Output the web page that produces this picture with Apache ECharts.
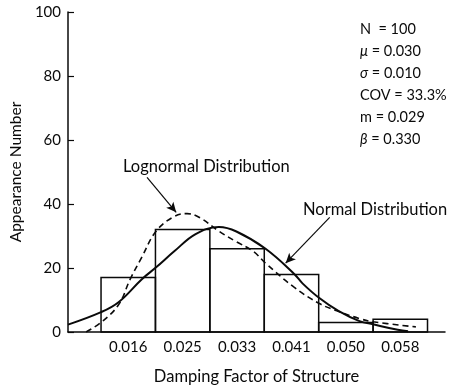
<!DOCTYPE html>
<html>
<head>
<meta charset="utf-8">
<script src="https://cdn.jsdelivr.net/npm/echarts@6/dist/echarts.min.js"></script>
<style>
  html, body { margin: 0; padding: 0; background: #fff; }
  #chart { width: 459px; height: 390px; }
</style>
</head>
<body>
<div id="chart"></div>
<script>
  // histogram bins (damping factor) and counts
  const binEdges = [0.0118, 0.0202, 0.0286, 0.0370, 0.0454, 0.0538, 0.0622];
  const binCenters = [0.016, 0.0244, 0.0328, 0.0412, 0.0496, 0.058];
  const binLabels = ['0.016', '0.025', '0.033', '0.041', '0.050', '0.058'];
  const counts = [17, 32, 26, 18, 3, 4];

  // fitted curves
  const normalCurve = [
    [0.0067, 2.3], [0.0118, 6.2], [0.0145, 9.3], [0.0181, 16.5], [0.0203, 20.2],
    [0.0231, 25.2], [0.0264, 30.6], [0.0300, 32.8], [0.0327, 31.4], [0.0372, 26],
    [0.0417, 18], [0.0429, 15.2], [0.0455, 10.6], [0.0485, 6.5], [0.0517, 3.4],
    [0.0538, 2.4], [0.0576, 0.7], [0.0592, 0.2]
  ];
  const lognormalCurve = [
    [0.0095, 0], [0.0118, 3], [0.0145, 8.5], [0.0163, 16.5], [0.0181, 23.4],
    [0.0203, 31.5], [0.0231, 36.1], [0.0251, 37], [0.0270, 35.8], [0.0300, 31.5],
    [0.0326, 28.3], [0.0353, 25.2], [0.0372, 21.5], [0.0416, 14], [0.0455, 8.9],
    [0.0485, 6.4], [0.0517, 4.2], [0.0538, 3.2], [0.0604, 1.6]
  ];

  // annotation arrows: [from, to] in data coordinates
  const lognormalArrow = [[0.0189, 48.3], [0.0234, 37.4]];
  const normalArrow = [[0.0471, 35.8], [0.0403, 21.5]];

  const statLines = [
    'N  = 100',
    '{i|μ} = 0.030',
    '{i|σ} = 0.010',
    'COV = 33.3%',
    'm = 0.029',
    '{i|β} = 0.330'
  ];

  const font = 'Lato, "DejaVu Sans", sans-serif';
  const ink = '#0a0a0a';
  const chart = echarts.init(document.getElementById('chart'), null, { renderer: 'canvas' });

  const bars = counts.map((c, i) => [binEdges[i], binEdges[i + 1], c]);

  chart.setOption({
    animation: false,
    backgroundColor: '#fff',
    textStyle: { fontFamily: font },
    grid: { left: 62, right: 14, top: 12, bottom: 57 },
    xAxis: {
      type: 'value',
      min: 0.0067,
      max: 0.0649,
      name: 'Damping Factor of Structure',
      nameLocation: 'middle',
      nameGap: 36,
      nameTextStyle: { color: ink, fontSize: 16.5, fontFamily: font },
      axisLine: { show: true, onZero: false, lineStyle: { color: ink, width: 1.5 } },
      axisTick: { show: false },
      splitLine: { show: false },
      axisLabel: {
        customValues: binCenters,
        color: ink,
        fontSize: 15,
        margin: 8,
        formatter: (v) => {
          const i = binCenters.findIndex((c) => Math.abs(c - v) < 1e-6);
          return i >= 0 ? binLabels[i] : '';
        }
      }
    },
    yAxis: {
      type: 'value',
      min: 0,
      max: 100,
      interval: 20,
      name: 'Appearance Number',
      nameLocation: 'middle',
      nameGap: 39,
      nameTextStyle: { color: ink, fontSize: 15.5, fontFamily: font },
      axisLine: { show: true, lineStyle: { color: ink, width: 1.5 } },
      axisTick: { show: true, inside: true, length: 6, lineStyle: { color: ink, width: 1.2 } },
      splitLine: { show: false },
      axisLabel: { color: ink, fontSize: 15, margin: 7 }
    },
    series: [
      {
        name: 'Histogram',
        type: 'custom',
        data: bars,
        z: 1,
        renderItem(params, api) {
          const topLeft = api.coord([api.value(0), api.value(2)]);
          const bottomRight = api.coord([api.value(1), 0]);
          return {
            type: 'rect',
            shape: {
              x: topLeft[0],
              y: topLeft[1],
              width: bottomRight[0] - topLeft[0],
              height: bottomRight[1] - topLeft[1]
            },
            style: { fill: 'none', stroke: ink, lineWidth: 1.5 }
          };
        }
      },
      {
        name: 'Normal Distribution',
        type: 'line',
        data: normalCurve,
        smooth: 0.4,
        showSymbol: false,
        z: 3,
        lineStyle: { color: ink, width: 2 },
        markLine: {
          silent: true,
          symbol: ['none', 'arrow'],
          symbolSize: [7, 10],
          label: { show: false },
          lineStyle: { color: ink, width: 1.2, type: 'solid' },
          data: [
            [{ coord: normalArrow[0] }, { coord: normalArrow[1] }],
            [{ coord: lognormalArrow[0] }, { coord: lognormalArrow[1] }]
          ]
        }
      },
      {
        name: 'Lognormal Distribution',
        type: 'line',
        data: lognormalCurve,
        smooth: 0.4,
        showSymbol: false,
        z: 2,
        lineStyle: { color: ink, width: 1.6, type: [6, 4] }
      }
    ],
    graphic: [
      {
        type: 'text',
        left: 123,
        top: 158,
        style: { text: 'Lognormal Distribution', fill: ink, font: '16.5px ' + font }
      },
      {
        type: 'text',
        left: 303,
        top: 201,
        style: { text: 'Normal Distribution', fill: ink, font: '16.5px ' + font }
      },
      {
        type: 'text',
        left: 360,
        top: 18,
        style: {
          text: statLines.join('\n'),
          fill: ink,
          fontSize: 14.5,
          fontFamily: font,
          lineHeight: 22,
          rich: {
            i: { fontStyle: 'italic', fontSize: 14.5, fontFamily: font, lineHeight: 22 }
          }
        }
      }
    ]
  });
</script>
</body>
</html>
